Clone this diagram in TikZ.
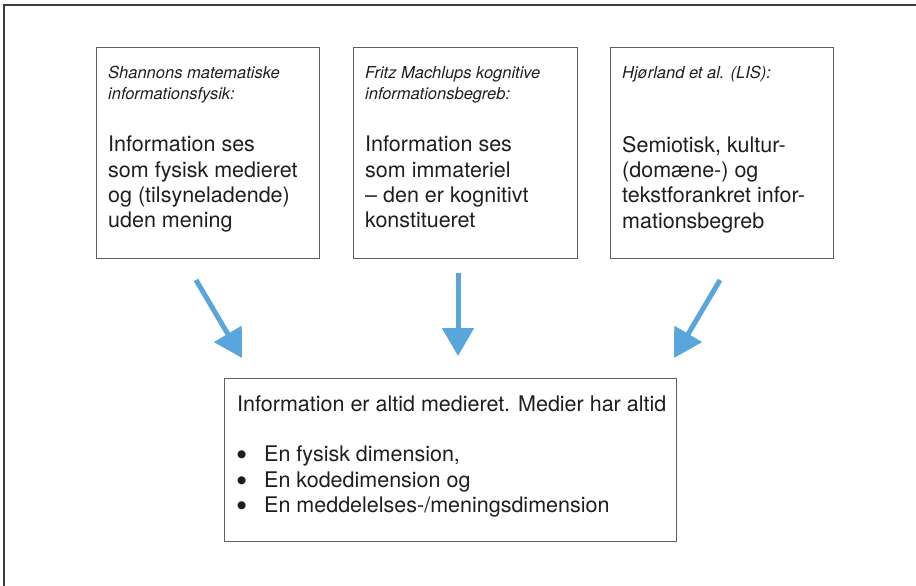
\documentclass[tikz,border=0pt]{standalone}
\usepackage{fontspec}
\setmainfont{TeX Gyre Heros}
\newfontfamily\symfont{DejaVu Sans}
\usetikzlibrary{arrows.meta}
\definecolor{arrowblue}{RGB}{88,166,220}
\definecolor{framegray}{RGB}{60,60,60}
\definecolor{boxgray}{RGB}{95,95,95}
\definecolor{textgray}{RGB}{30,30,30}
\tikzset{
  box/.style={draw=boxgray, line width=1.2pt, anchor=north west, inner sep=0pt},
  head/.style={anchor=north west, inner sep=0pt, align=left, text=textgray,
    font=\fontsize{16.5}{21}\selectfont\itshape},
  body/.style={anchor=north west, inner sep=0pt, align=left, text=textgray,
    font=\fontsize{21.5}{25.3}\selectfont},
  flow/.style={arrowblue, line width=5pt, -{Triangle[length=28pt,width=31pt]}}
}
\newcommand{\bul}{\makebox[27pt][l]{\raisebox{4pt}{\symfont\fontsize{10.5}{10.5}\selectfont ●}}}
\begin{document}
\begin{tikzpicture}[x=1pt,y=-1pt]
\useasboundingbox (0,0) rectangle (916,586);
\draw[framegray, line width=1.8pt] (4,586) -- (4,5) -- (916,5);
% upper boxes
\node[box, minimum width=223pt, minimum height=211pt] (shannon) at (96,47) {};
\node[box, minimum width=224pt, minimum height=211pt] (machlup) at (353,47) {};
\node[box, minimum width=223pt, minimum height=211pt] (hjorland) at (610,47) {};
\node[head] (shannonhead) at (108,66) {Shannons matematiske\\informationsfysik:};
\node[body] (shannontext) at (108,136) {Information ses\\som fysisk medieret\\og (tilsyneladende)\\uden mening};
\node[head] (machluphead) at (365,66) {Fritz Machlups kognitive\\informationsbegreb:};
\node[body] (machluptext) at (365,136) {Information ses\\som immateriel\\– den er kognitivt\\konstitueret};
\node[head] (hjorlandhead) at (622,66) {Hjørland et al. (LIS):};
\node[body] (hjorlandtext) at (622,136) {Semiotisk, kultur-\\(domæne-) og\\tekstforankret infor-\\mationsbegreb};
% lower box
\node[box, minimum width=452pt, minimum height=163pt] (medie) at (224,378) {};
\node[body] (medietext) at (237,396) {Information er altid medieret. Medier har altid};
\node[body] (medielist) at (237,446) {\bul En fysisk dimension,\\\bul En kodedimension og\\\bul En meddelelses-/meningsdimension};
% arrows
\coordinate (a1) at (196,280);
\coordinate (b1) at (242,358);
\coordinate (a2) at (458,273);
\coordinate (b2) at (458,356);
\coordinate (a3) at (720,280);
\coordinate (b3) at (674,358);
\draw[flow] (a1) -- (b1);
\draw[flow] (a2) -- (b2);
\draw[flow] (a3) -- (b3);
\end{tikzpicture}
\end{document}
